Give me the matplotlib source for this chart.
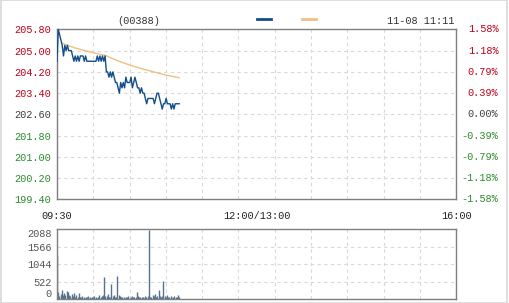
import numpy as np
import matplotlib
matplotlib.use("Agg")
import matplotlib.pyplot as plt
from matplotlib.patches import Rectangle

# Intraday data for 00388, 11-08, 09:30 -> 11:11 (minutes since open)
prev_close = 202.60
end_minute = 101

price = [204.6, 205.8, 205.6, 205.4, 205.2, 204.8, 205.2, 205.0, 205.2, 205.0,
         205.0, 205.0, 204.8, 204.6, 204.8, 204.6, 204.8, 204.6, 204.8, 204.8,
         204.8, 204.6, 204.8, 204.6, 204.6, 204.6, 204.6, 204.6, 204.6, 204.6,
         204.6, 204.8, 204.6, 204.8, 204.6, 204.8, 204.6, 204.8, 204.2, 204.2,
         204.0, 204.2, 204.0, 204.2, 204.0, 203.8, 203.8, 203.6, 203.4, 203.8,
         203.6, 203.8, 203.6, 204.0, 203.8, 203.8, 203.8, 204.0, 203.6, 203.8,
         204.0, 203.8, 203.6, 203.6, 203.4, 203.6, 203.4, 203.4, 203.2, 203.0,
         203.2, 203.2, 203.2, 203.2, 203.2, 203.0, 203.2, 203.4, 203.4, 203.2,
         203.0, 202.8, 203.0, 203.0, 203.2, 203.0, 203.0, 203.0, 202.8, 203.0,
         202.8, 203.0, 203.0, 203.0, 203.0]

avg_minutes = [4, 15, 30, 40, 50, 60, 70, 80, 90, 101]
avg_price = [205.28, 205.10, 204.92, 204.82, 204.62, 204.46, 204.32, 204.20, 204.08, 203.98]

volume = [1320, 220, 90, 150, 270, 130, 180, 110, 240, 200,
          120, 80, 150, 90, 170, 60, 110, 70, 180, 60,
          50, 90, 70, 40, 60, 50, 80, 60, 40, 70,
          50, 90, 60, 40, 70, 110, 60, 80, 120, 660,
          100, 90, 150, 70, 60, 440, 90, 120, 70, 60,
          690, 110, 80, 60, 50, 70, 40, 60, 50, 80,
          40, 60, 90, 50, 70, 60, 220, 80, 60, 50,
          70, 60, 40, 80, 60, 90, 2060, 70, 60, 110,
          80, 150, 60, 90, 270, 100, 60, 80, 540, 90,
          60, 110, 70, 50, 80, 40, 60, 90, 50, 70,
          110, 60]

price_ticks = [199.40, 200.20, 201.00, 201.80, 202.60, 203.40, 204.20, 205.00, 205.80]
pct_labels = ["-1.58%", "-1.18%", "-0.79%", "-0.39%", "0.00%", "0.39%", "0.79%", "1.18%", "1.58%"]
vol_ticks = [0, 522, 1044, 1566, 2088]
time_labels = ["09:30", "12:00/13:00", "16:00"]
time_label_pos = [0, 165, 330]

RED = "#c0001a"
GREEN = "#2e8b2e"
NEUTRAL = "#404040"
GRID = "#d9d9d9"
FRAME = "#7f7f7f"
FONT = ["Liberation Mono", "DejaVu Sans Mono"]
FS = 7.4

fig = plt.figure(figsize=(5.09, 3.03), dpi=100)
fig.patches.append(Rectangle((0.002, 0.0), 0.994, 1.0, transform=fig.transFigure,
                             fill=False, edgecolor="#d8d8d8", linewidth=1.2))

ax = fig.add_axes([0.112, 0.342, 0.784, 0.561])
axv = fig.add_axes([0.112, 0.013, 0.784, 0.231])

t_price = np.linspace(0, end_minute, len(price))
t_vol = np.arange(len(volume))

for a in (ax, axv):
    a.set_xlim(0, 330)
    a.set_xticks(np.arange(0, 331, 30))
    a.tick_params(length=0, labelbottom=False)
    a.grid(True, color=GRID, linestyle=(0, (3, 3)), linewidth=0.8)
    for s in a.spines.values():
        s.set_color(FRAME)
        s.set_linewidth(1.0)

# price panel
ax.plot(avg_minutes, avg_price, color="#f0c080", linewidth=1.0, zorder=3)
ax.plot(t_price, price, color="#124e8a", linewidth=1.0, zorder=4)
ax.set_ylim(price_ticks[0], price_ticks[-1])
ax.set_yticks(price_ticks)
ax.set_yticklabels(["%.2f" % p for p in price_ticks], fontfamily=FONT, fontsize=FS)
ax.tick_params(axis="y", pad=4)

for lab, p, pl in zip(ax.get_yticklabels(), price_ticks, pct_labels):
    c = RED if p > prev_close + 1e-6 else (GREEN if p < prev_close - 1e-6 else NEUTRAL)
    lab.set_color(c)
    ax.text(1.106, p, pl, transform=ax.get_yaxis_transform(), ha="right", va="center",
            color=c, fontfamily=FONT, fontsize=FS)

for lab, pos in zip(time_labels, time_label_pos):
    ax.text(pos, -0.1, lab, transform=ax.get_xaxis_transform(), ha="center", va="center",
            color="#222222", fontfamily=FONT, fontsize=FS)

# header
ax.text(0.205, 1.05, "(00388)", transform=ax.transAxes, ha="center", va="center",
        color="#333333", fontfamily=FONT, fontsize=FS)
ax.plot([0.50, 0.535], [1.064, 1.064], transform=ax.transAxes, color="#124e8a",
        linewidth=2.0, clip_on=False)
ax.plot([0.614, 0.649], [1.064, 1.064], transform=ax.transAxes, color="#f0c080",
        linewidth=2.0, clip_on=False)
ax.text(0.995, 1.05, "11-08 11:11", transform=ax.transAxes, ha="right", va="center",
        color="#333333", fontfamily=FONT, fontsize=FS)

# volume panel
axv.vlines(t_vol, 0, volume, color="#56728f", linewidth=1.0)
axv.set_ylim(0, vol_ticks[-1])
axv.set_yticks(vol_ticks)
axv.set_yticklabels([str(v) for v in vol_ticks], fontfamily=FONT, fontsize=FS, color="#555555")
axv.tick_params(axis="y", pad=4)
vlabs = axv.get_yticklabels()
vlabs[0].set_verticalalignment("bottom")
vlabs[-1].set_verticalalignment("top")

fig.savefig("out.png", dpi=100)
